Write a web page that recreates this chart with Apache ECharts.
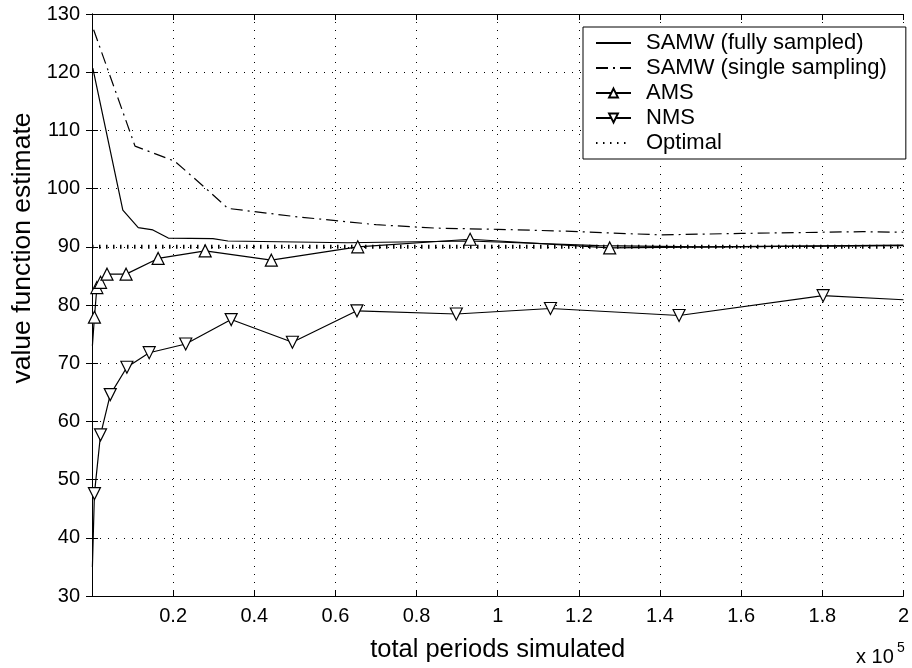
<!DOCTYPE html>
<html><head><meta charset="utf-8">
<script src="https://cdn.jsdelivr.net/npm/echarts@6/dist/echarts.min.js"></script>
<style>html,body{margin:0;padding:0;background:#fff}#c{width:912px;height:668px}</style>
</head><body><div id="c"></div>
<script>
var seriesNames = ['SAMW (fully sampled)', 'SAMW (single sampling)', 'AMS', 'NMS', 'Optimal'];
var samwFullX = [0.002, 0.076, 0.114, 0.15, 0.188, 0.298, 0.335, 0.63, 0.93, 1.25, 1.5, 2.0];
var samwFullY = [120.7, 96.3, 93.3, 92.9, 91.5, 91.4, 91.0, 90.7, 91.0, 90.2, 90.0, 90.2];
var samwSingleX = [0.004, 0.106, 0.204, 0.278, 0.335, 0.5, 0.7, 0.85, 1.0, 1.16, 1.40, 1.6, 1.9, 2.0];
var samwSingleY = [127.3, 107.3, 104.7, 100.2, 96.6, 95.2, 93.8, 93.2, 93.0, 92.7, 92.05, 92.3, 92.6, 92.5];
var amsX = [0.001, 0.006, 0.012, 0.021, 0.037, 0.084, 0.163, 0.279, 0.442, 0.655, 0.932, 1.276, 2.0];
var amsY = [73, 77.9, 83.0, 83.9, 85.3, 85.3, 88.0, 89.3, 87.7, 90.0, 91.3, 89.8, 90.3];
var amsMarked = [false, true, true, true, true, true, true, true, true, true, true, true, false];
var nmsX = [0.001, 0.006, 0.021, 0.045, 0.086, 0.141, 0.231, 0.343, 0.494, 0.653, 0.898, 1.130, 1.447, 1.802, 2.0];
var nmsY = [35, 47.6, 57.7, 64.6, 69.3, 71.8, 73.3, 77.5, 73.6, 79.0, 78.45, 79.4, 78.2, 81.6, 80.9];
var nmsMarked = [false, true, true, true, true, true, true, true, true, true, true, true, true, true, false];
var optimalX = [0, 2];
var optimalY = [90, 90];
var xTitle = 'total periods simulated';
var yTitle = 'value function estimate';

function pairs(xs, ys, marks) {
  return xs.map(function (x, i) {
    var p = { value: [x, ys[i]] };
    if (marks && !marks[i]) p.symbol = 'none';
    return p;
  });
}
var FONT = 'Liberation Sans';
var fmtX = function (v) { return v === 0 ? '' : String(parseFloat(v.toFixed(1))); };
var hidden = { color: 'rgba(0,0,0,0)', borderColor: 'rgba(0,0,0,0)', borderWidth: 0 };
var chart = echarts.init(document.getElementById('c'), null, { renderer: 'canvas' });
var baseAxis = {
  axisLine: { show: true, lineStyle: { color: '#000', width: 1 } },
  axisTick: { show: true, inside: true, length: 6, lineStyle: { color: '#000' } }
};
chart.setOption({
  animation: false,
  backgroundColor: '#fff',
  grid: { left: 92, right: 3.5, top: 14, bottom: 71, containLabel: false },
  legend: {
    orient: 'vertical', left: 583, top: 27,
    backgroundColor: '#fff', borderColor: '#000', borderWidth: 1, borderRadius: 0,
    padding: [5, 19, 5, 12], itemGap: 3, itemWidth: 35, itemHeight: 11,
    textStyle: { fontFamily: FONT, fontSize: 22, lineHeight: 22, color: '#000', padding: [0, 0, 0, 10] },
    data: [
      { name: seriesNames[0], itemStyle: hidden },
      { name: seriesNames[1], itemStyle: hidden },
      { name: seriesNames[2] },
      { name: seriesNames[3] },
      { name: seriesNames[4], itemStyle: hidden }
    ]
  },
  xAxis: [
    Object.assign({}, baseAxis, {
      type: 'value', min: 0, max: 2, interval: 0.2, position: 'bottom',
      name: xTitle, nameLocation: 'middle', nameGap: 41,
      nameTextStyle: { fontFamily: FONT, fontSize: 25.5, color: '#000' },
      axisLabel: { formatter: fmtX, fontFamily: FONT, fontSize: 20, color: '#000', margin: 10 },
      splitLine: { show: true, lineStyle: { color: '#000', type: [1, 7], width: 1 } }
    }),
    Object.assign({}, baseAxis, {
      type: 'value', min: 0, max: 2, interval: 0.2, position: 'top',
      axisLabel: { show: false }, splitLine: { show: false }
    })
  ],
  yAxis: [
    Object.assign({}, baseAxis, {
      type: 'value', min: 30, max: 130, interval: 10, position: 'left',
      axisLabel: { fontFamily: FONT, fontSize: 20, color: '#000', margin: 12 },
      splitLine: { show: true, lineStyle: { color: '#000', type: [1, 7], width: 1 } }
    }),
    Object.assign({}, baseAxis, {
      type: 'value', min: 30, max: 130, interval: 10, position: 'right',
      axisLabel: { show: false }, splitLine: { show: false }
    })
  ],
  graphic: [
    { type: 'text', x: 23, y: 248, rotation: Math.PI / 2,
      style: { text: yTitle, fontFamily: FONT, fontSize: 26.5, fill: '#000', align: 'center', verticalAlign: 'middle' } },
    { type: 'text', left: 856, top: 647, style: { text: 'x 10', fontFamily: FONT, fontSize: 20, fill: '#000' } },
    { type: 'text', left: 897, top: 641, style: { text: '5', fontFamily: FONT, fontSize: 14, fill: '#000' } }
  ],
  series: [
    { name: seriesNames[0], type: 'line', symbol: 'none', data: pairs(samwFullX, samwFullY),
      lineStyle: { color: '#000', width: 1.2 }, itemStyle: { color: '#000' } },
    { name: seriesNames[1], type: 'line', symbol: 'none', data: pairs(samwSingleX, samwSingleY),
      lineStyle: { color: '#000', width: 1.2, type: [12, 5, 2, 5] }, itemStyle: { color: '#000' } },
    { name: seriesNames[2], type: 'line', symbol: 'triangle', symbolSize: 12, data: pairs(amsX, amsY, amsMarked),
      lineStyle: { color: '#000', width: 1.2 }, itemStyle: { color: '#fff', borderColor: '#000', borderWidth: 1.2 } },
    { name: seriesNames[3], type: 'line', symbol: 'triangle', symbolRotate: 180, symbolSize: 12, data: pairs(nmsX, nmsY, nmsMarked),
      lineStyle: { color: '#000', width: 1.2 }, itemStyle: { color: '#fff', borderColor: '#000', borderWidth: 1.2 } },
    { name: seriesNames[4], type: 'line', symbol: 'none', data: pairs(optimalX, optimalY),
      lineStyle: { color: '#000', width: 4, type: [1.5, 5.5] }, itemStyle: { color: '#000' } }
  ]
});
</script></body></html>
